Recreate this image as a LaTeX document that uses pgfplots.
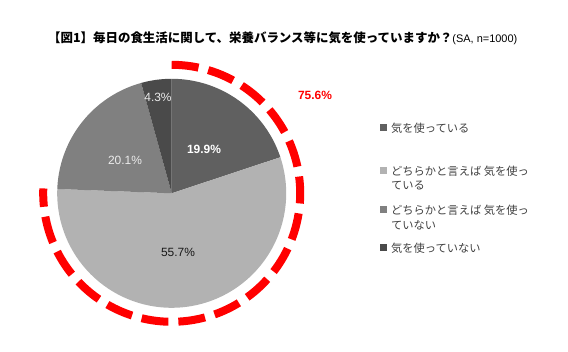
\documentclass[border=0pt]{standalone}
\usepackage{pgfplots}
\pgfplotsset{compat=1.18}
\usepackage{fontspec}
\setmainfont{Liberation Sans}
\newfontfamily\jp{Noto Sans CJK JP}
\definecolor{cA}{HTML}{606060}
\definecolor{cB}{HTML}{B2B2B2}
\definecolor{cC}{HTML}{808080}
\definecolor{cD}{HTML}{4A4A4A}
\definecolor{legtxt}{HTML}{404040}
\begin{document}
\begin{tikzpicture}
\def\cx{171.7}\def\cy{158.7}\def\R{114.5}
% shares (%)
\def\va{19.9}\def\vb{55.7}\def\vc{20.1}\def\vd{4.3}
\pgfmathsetmacro\aA{90}
\pgfmathsetmacro\aB{\aA-3.6*\va}
\pgfmathsetmacro\aC{\aB-3.6*\vb}
\pgfmathsetmacro\aD{\aC-3.6*\vc}
\pgfmathsetmacro\aE{\aD-3.6*\vd}
\begin{axis}[at={(0,0)}, anchor=south west, scale only axis,
  width=568bp, height=352bp, xmin=0, xmax=568, ymin=0, ymax=352,
  hide axis, clip=false]
\addplot[fill=cA, draw=none, domain=\aA:\aB, samples=60, variable=\t]
  ({\cx+\R*cos(\t)},{\cy+\R*sin(\t)}) -- (axis cs:\cx,\cy) -- cycle;
\addplot[fill=cB, draw=none, domain=\aB:\aC, samples=120, variable=\t]
  ({\cx+\R*cos(\t)},{\cy+\R*sin(\t)}) -- (axis cs:\cx,\cy) -- cycle;
\addplot[fill=cC, draw=none, domain=\aC:\aD, samples=60, variable=\t]
  ({\cx+\R*cos(\t)},{\cy+\R*sin(\t)}) -- (axis cs:\cx,\cy) -- cycle;
\addplot[fill=cD, draw=none, domain=\aD:\aE, samples=20, variable=\t]
  ({\cx+\R*cos(\t)},{\cy+\R*sin(\t)}) -- (axis cs:\cx,\cy) -- cycle;
% dashed red arc (75.6%)
\addplot[draw=red, line width=8bp, line cap=butt, dash pattern=on 27bp off 10bp,
  domain=90:{90-3.6*75.6}, samples=200, variable=\t]
  ({\cx+128.5*cos(\t)},{\cy+128.5*sin(\t)});
% slice labels
\node[text=white, font=\bfseries\fontsize{12}{14}\selectfont] at (axis cs:204,203) {19.9\%};
\node[text=black!90, font=\fontsize{12}{14}\selectfont] at (axis cs:178,100) {55.7\%};
\node[text=black!8, font=\fontsize{12}{14}\selectfont] at (axis cs:125,192) {20.1\%};
\node[text=black!8, font=\fontsize{12}{14}\selectfont] at (axis cs:158,255) {4.3\%};
\node[text=red, font=\bfseries\fontsize{12}{14}\selectfont] at (axis cs:315,257) {75.6\%};
% title
\node[anchor=west, inner sep=0pt] at (axis cs:48,314)
  {\jp\bfseries\fontsize{12.5}{14}\selectfont 【図1】毎日の食生活に関して、栄養バランス等に気を使っていますか？{\rmfamily\mdseries\fontsize{11}{12}\selectfont (SA, n=1000)}};
% legend
\fill[cA] (axis cs:380,220.5) rectangle (axis cs:387,227.5);
\node[anchor=west, inner sep=0pt, text=legtxt] at (axis cs:391,224) {\jp\fontsize{11.3}{14}\selectfont 気を使っている};
\fill[cB] (axis cs:380,177.5) rectangle (axis cs:387,184.5);
\node[anchor=west, inner sep=0pt, text=legtxt] at (axis cs:391,181) {\jp\fontsize{11.3}{14}\selectfont どちらかと言えば 気を使っ};
\node[anchor=west, inner sep=0pt, text=legtxt] at (axis cs:391,166) {\jp\fontsize{11.3}{14}\selectfont ている};
\fill[cC] (axis cs:380,138.5) rectangle (axis cs:387,145.5);
\node[anchor=west, inner sep=0pt, text=legtxt] at (axis cs:391,142) {\jp\fontsize{11.3}{14}\selectfont どちらかと言えば 気を使っ};
\node[anchor=west, inner sep=0pt, text=legtxt] at (axis cs:391,127) {\jp\fontsize{11.3}{14}\selectfont ていない};
\fill[cD] (axis cs:380,100.5) rectangle (axis cs:387,107.5);
\node[anchor=west, inner sep=0pt, text=legtxt] at (axis cs:391,104) {\jp\fontsize{11.3}{14}\selectfont 気を使っていない};
\end{axis}
\useasboundingbox (0,0) rectangle (568bp,352bp);
\end{tikzpicture}
\end{document}
